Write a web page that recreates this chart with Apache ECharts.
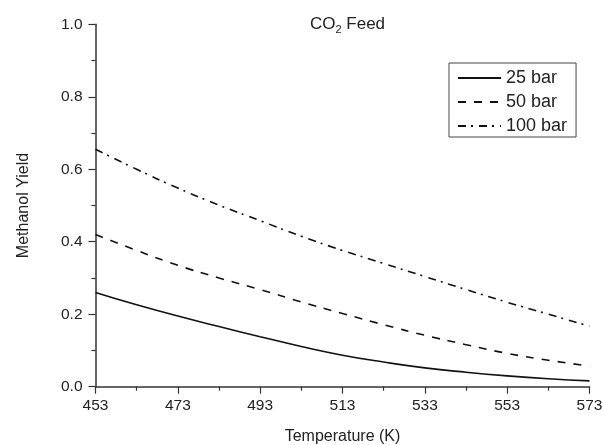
<!DOCTYPE html>
<html>
<head>
<meta charset="utf-8">
<script src="https://cdn.jsdelivr.net/npm/echarts@6/dist/echarts.min.js"></script>
<style>
html,body{margin:0;padding:0;background:#fff;}
#chart{width:603px;height:445px;}
</style>
</head>
<body>
<div id="chart"></div>
<script>
// Temperatures (K)
var temperatures = [453, 463, 473, 483, 493, 503, 513, 523, 533, 543, 553, 563, 573];
// Methanol yield, CO2 feed
var yield25 = [0.260, 0.226, 0.195, 0.166, 0.138, 0.111, 0.087, 0.068, 0.052, 0.040, 0.030, 0.022, 0.016];
var yield50 = [0.420, 0.376, 0.335, 0.300, 0.268, 0.234, 0.202, 0.171, 0.142, 0.116, 0.092, 0.073, 0.057];
var yield100 = [0.655, 0.600, 0.548, 0.501, 0.458, 0.415, 0.376, 0.340, 0.304, 0.268, 0.233, 0.200, 0.167];
var seriesNames = ['25 bar', '50 bar', '100 bar'];
var xTicks = [453, 473, 493, 513, 533, 553, 573];
var yTicks = [0.0, 0.2, 0.4, 0.6, 0.8, 1.0];

function pairs(ys) {
  return temperatures.map(function (t, i) { return [t, ys[i]]; });
}

var font = 'Liberation Sans, Arial, sans-serif';
var axisColor = '#333';
var chart = echarts.init(document.getElementById('chart'), null, {renderer: 'canvas'});
chart.setOption({
  animation: false,
  backgroundColor: '#fff',
  title: {
    text: 'CO{sub|2} Feed',
    left: 342.5,
    textAlign: 'center',
    top: 9,
    textStyle: {
      fontFamily: font, fontSize: 17, fontWeight: 'normal', color: '#222',
      rich: { sub: { fontFamily: font, fontSize: 11, color: '#222', verticalAlign: 'bottom', padding: [10, 0, 0, 0] } }
    }
  },
  legend: {
    orient: 'vertical',
    left: 449,
    top: 63,
    padding: [6, 9, 2, 8],
    itemWidth: 43,
    itemHeight: 14,
    itemGap: 6,
    borderColor: '#444',
    borderWidth: 1,
    data: seriesNames,
    itemStyle: { color: 'rgba(0,0,0,0)', borderWidth: 0, opacity: 0 },
    textStyle: { fontFamily: font, fontSize: 18, color: '#222' }
  },
  grid: { left: 95.5, right: 13.5, top: 24.3, bottom: 58.3, outerBoundsMode: 'none' },
  xAxis: {
    type: 'value',
    min: xTicks[0],
    max: xTicks[xTicks.length - 1],
    interval: xTicks[1] - xTicks[0],
    name: 'Temperature (K)',
    nameLocation: 'middle',
    nameGap: 42,
    nameTextStyle: { fontFamily: font, fontSize: 16, color: '#222' },
    axisLine: { lineStyle: { color: axisColor, width: 1.5 } },
    axisTick: { length: 7, lineStyle: { color: axisColor, width: 1.2 } },
    minorTick: { show: true, splitNumber: 2, length: 4, lineStyle: { color: axisColor, width: 1.2 } },
    splitLine: { show: false },
    axisLabel: { fontFamily: font, fontSize: 15.5, color: '#222', margin: 11 }
  },
  yAxis: {
    type: 'value',
    min: yTicks[0],
    max: yTicks[yTicks.length - 1],
    interval: yTicks[1] - yTicks[0],
    name: 'Methanol Yield',
    nameLocation: 'middle',
    nameGap: 64,
    nameTextStyle: { fontFamily: font, fontSize: 16, color: '#222' },
    axisLine: { show: true, lineStyle: { color: axisColor, width: 1.5 } },
    axisTick: { show: true, length: 7, lineStyle: { color: axisColor, width: 1.2 } },
    minorTick: { show: true, splitNumber: 2, length: 4, lineStyle: { color: axisColor, width: 1.2 } },
    splitLine: { show: false },
    axisLabel: {
      fontFamily: font, fontSize: 15.5, color: '#222', margin: 13,
      formatter: function (v) { return v.toFixed(1); }
    }
  },
  series: [
    {
      name: seriesNames[0], type: 'line', data: pairs(yield25), smooth: true,
      symbol: 'none', lineStyle: { color: '#111', width: 1.6, type: 'solid' }, itemStyle: { color: '#111' }
    },
    {
      name: seriesNames[1], type: 'line', data: pairs(yield50), smooth: true,
      symbol: 'none', lineStyle: { color: '#111', width: 1.6, type: [8, 8] }, itemStyle: { color: '#111' }
    },
    {
      name: seriesNames[2], type: 'line', data: pairs(yield100), smooth: true,
      symbol: 'none', lineStyle: { color: '#111', width: 1.6, type: [8, 5, 2, 6] }, itemStyle: { color: '#111' }
    }
  ]
});
</script>
</body>
</html>
